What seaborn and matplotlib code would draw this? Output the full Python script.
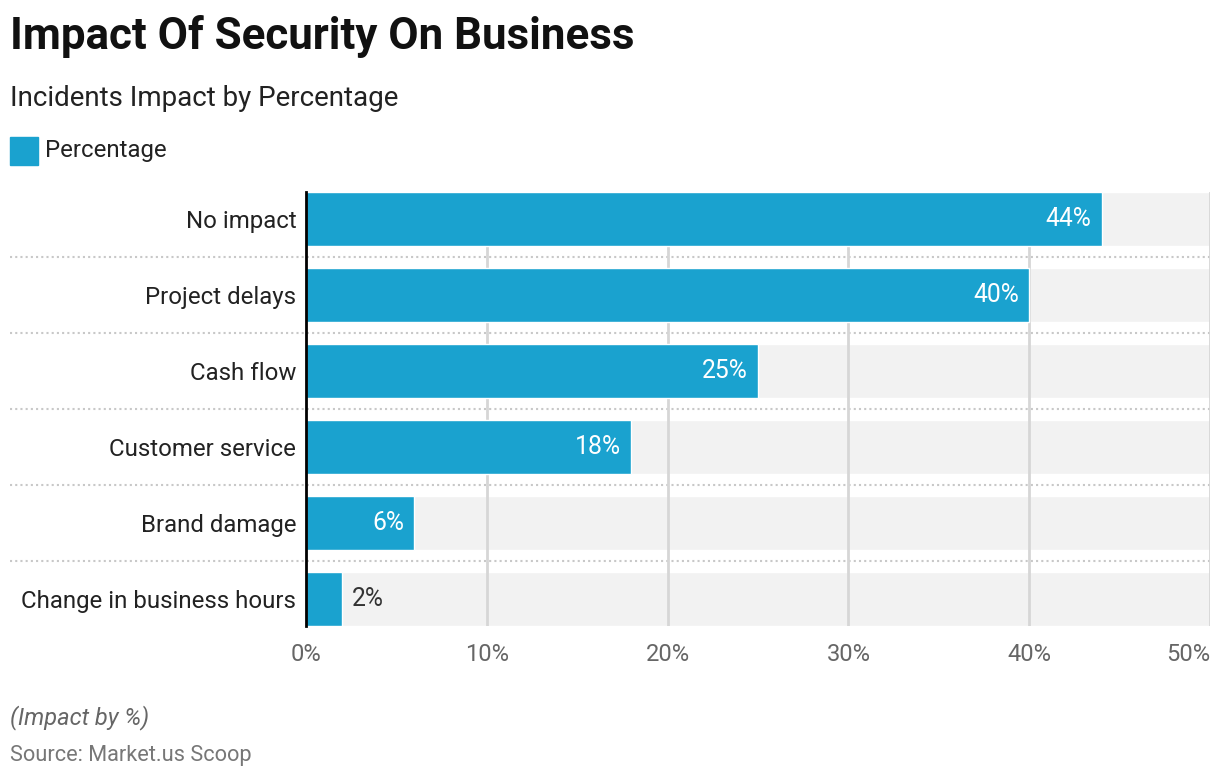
import numpy as np
import pandas as pd
import seaborn as sns
import matplotlib.pyplot as plt
from matplotlib.patches import Rectangle

categories = ["No impact", "Project delays", "Cash flow", "Customer service",
              "Brand damage", "Change in business hours"]
values = [44, 40, 25, 18, 6, 2]
x_ticks = [0, 10, 20, 30, 40, 50]
x_max = 50

df = pd.DataFrame({"Impact": categories, "Percentage": values})
df["Full"] = x_max

sns.set_theme(style="white")
plt.rcParams['font.family'] = ['Roboto', 'DejaVu Sans']

blue = "#1aa2cf"
fig = plt.figure(figsize=(12.2, 7.78), dpi=100)
ax = fig.add_axes([306/1220, 1-626/778, 904/1220, 434/778])

bh = 0.71
# grey background track behind every bar
sns.barplot(data=df, x="Full", y="Impact", orient="h", color="#f2f2f2",
            width=bh, ax=ax, zorder=0.3, saturation=1)
sns.barplot(data=df, x="Percentage", y="Impact", orient="h", color=blue,
            width=bh, ax=ax, zorder=1, saturation=1)

ax.set_xlim(0, x_max)
ax.set_ylim(len(categories)-1+bh/2, -bh/2)
ax.set_xlabel("")
ax.set_ylabel("")

# vertical grid
for t in x_ticks[1:]:
    ax.axvline(t, color="#d6d6d6", lw=2, zorder=0.5)

# dotted row separators, running into the label area
for i in range(len(categories)-1):
    ax.plot([-0.327, 1], [i+0.5, i+0.5], transform=ax.get_yaxis_transform(),
            color="#c8c8c8", lw=1.5, ls=(0, (1, 1.5)), clip_on=False, zorder=0.4)

for s in ["top", "right", "bottom"]:
    ax.spines[s].set_visible(False)
ax.spines["left"].set_color("black")
ax.spines["left"].set_linewidth(2)
ax.spines["left"].set_zorder(3)

ax.set_xticks(x_ticks)
ax.set_xticklabels([f"{t}%" for t in x_ticks])
ax.tick_params(axis="x", length=0, pad=12, labelsize=17, labelcolor="#666666")
ax.tick_params(axis="y", length=0, pad=7, labelsize=17.3, labelcolor="#222222")
ax.get_xticklabels()[-1].set_horizontalalignment("right")

# value labels
for i, v in enumerate(values):
    if v >= 5:
        ax.annotate(f"{v}%", (v, i), xytext=(-10, 0), textcoords="offset pixels",
                    ha="right", va="center", color="white", fontsize=17.8, zorder=4)
    else:
        ax.annotate(f"{v}%", (v, i), xytext=(10, 0), textcoords="offset pixels",
                    ha="left", va="center", color="#333333", fontsize=17.8, zorder=4)

# titles and legend
fig.text(10/1220, 1-37/778, "Impact Of Security On Business", fontsize=31.6,
         fontweight="bold", color="#111111", va="center", ha="left")
fig.text(10/1220, 1-98/778, "Incidents Impact by Percentage", fontsize=20,
         color="#222222", va="center", ha="left")
fig.patches.append(Rectangle((10/1220, 1-165/778), 28/1220, 28/778,
                             transform=fig.transFigure, color=blue))
fig.text(45/1220, 1-151/778, "Percentage", fontsize=17.3, color="#222222",
         va="center", ha="left")

fig.text(10/1220, 1-718/778, "(Impact by %)", fontsize=17, style="italic",
         color="#666666", va="center", ha="left")
fig.text(10/1220, 1-755/778, "Source: Market.us Scoop", fontsize=15.7,
         color="#777777", va="center", ha="left")

fig.savefig("out.png", dpi=100)
